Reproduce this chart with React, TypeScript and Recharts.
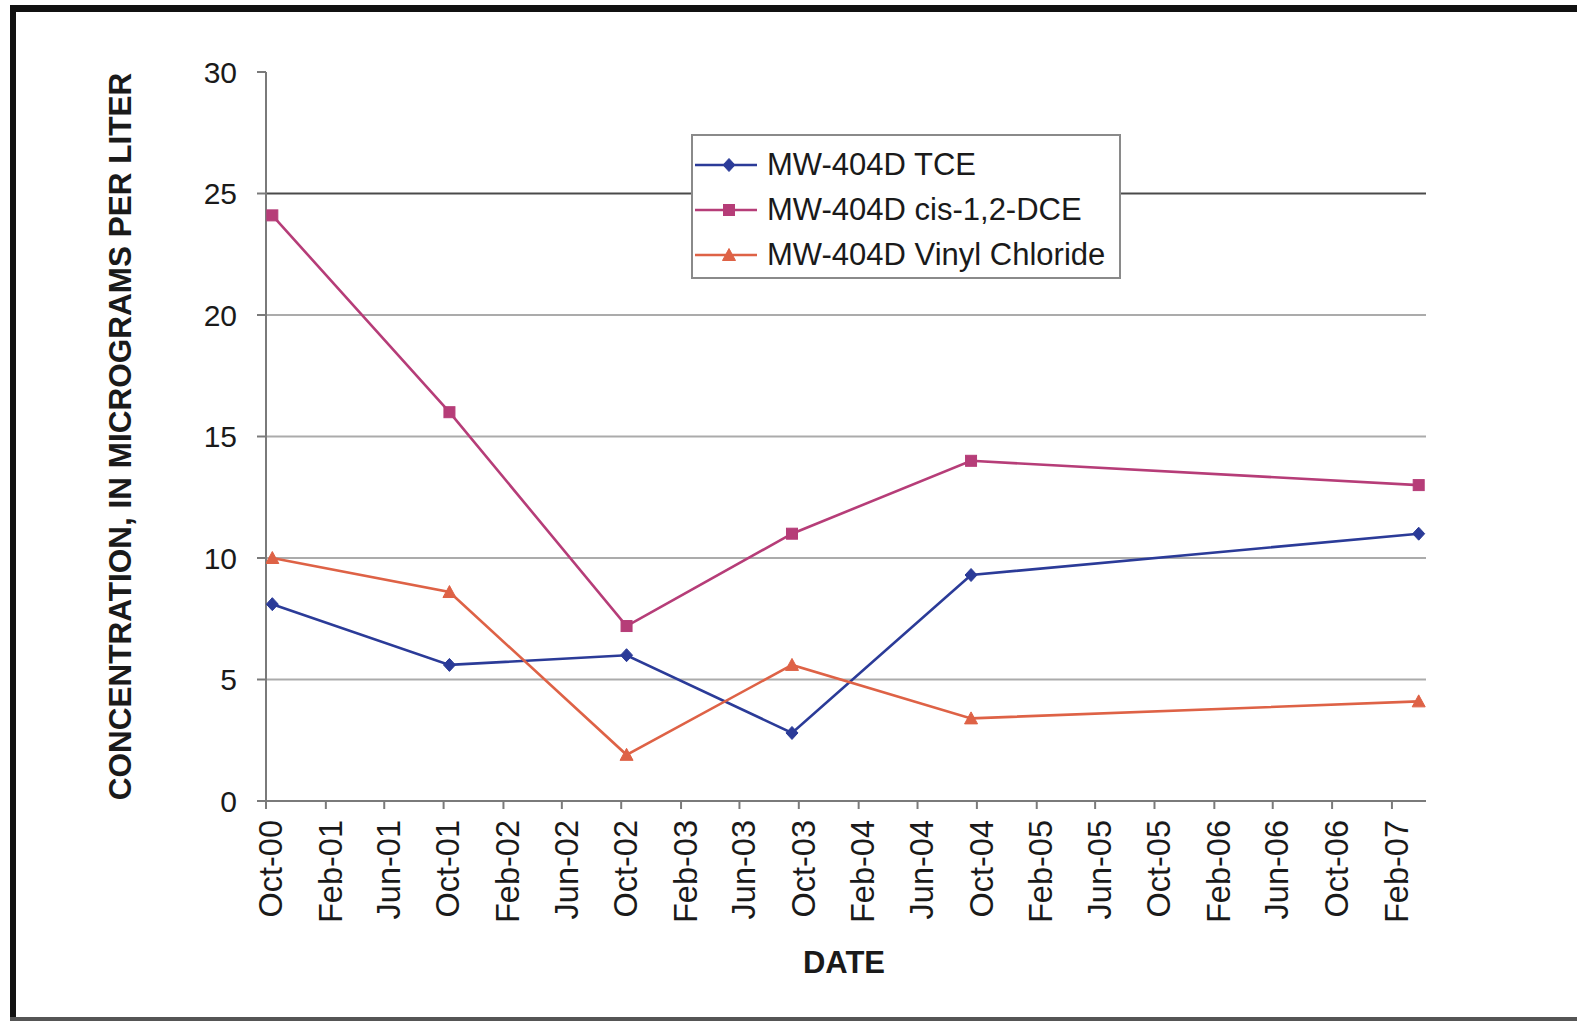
import React from 'react';
import { LineChart, Line, XAxis, YAxis, ReferenceLine } from 'recharts';

const sampleDates = ['2000-10-14', '2001-10-13', '2002-10-12', '2003-09-17', '2004-09-19', '2007-03-28'];
const tceValues = [8.1, 5.6, 6.0, 2.8, 9.3, 11.0];
const dceValues = [24.1, 16.0, 7.2, 11.0, 14.0, 13.0];
const vinylValues = [10.0, 8.6, 1.9, 5.6, 3.4, 4.1];
const seriesNames = ['MW-404D TCE', 'MW-404D cis-1,2-DCE', 'MW-404D Vinyl Chloride'];

const tickDates = [
  '2000-10-01', '2001-02-01', '2001-06-01', '2001-10-01', '2002-02-01', '2002-06-01', '2002-10-01',
  '2003-02-01', '2003-06-01', '2003-10-01', '2004-02-01', '2004-06-01', '2004-10-01', '2005-02-01',
  '2005-06-01', '2005-10-01', '2006-02-01', '2006-06-01', '2006-10-01', '2007-02-01',
];
const tickLabels = [
  'Oct-00', 'Feb-01', 'Jun-01', 'Oct-01', 'Feb-02', 'Jun-02', 'Oct-02', 'Feb-03', 'Jun-03', 'Oct-03',
  'Feb-04', 'Jun-04', 'Oct-04', 'Feb-05', 'Jun-05', 'Oct-05', 'Feb-06', 'Jun-06', 'Oct-06', 'Feb-07',
];
const xDomainDates = ['2000-10-01', '2007-04-12'];
const yTicks = [0, 5, 10, 15, 20, 25, 30];
const gridValues = [5, 10, 15, 20, 25];

const toTime = (s: string) => Date.parse(s + 'T00:00:00Z');

const data = sampleDates.map((d, i) => ({
  t: toTime(d),
  tce: tceValues[i],
  dce: dceValues[i],
  vc: vinylValues[i],
}));

const tickTimes = tickDates.map(toTime);
const labelByTime: Record<number, string> = {};
tickTimes.forEach((t, i) => { labelByTime[t] = tickLabels[i]; });

const FONT = 'Arial, "Liberation Sans", Helvetica, sans-serif';
const TEXT = '#1a1a1a';
const C_TCE = '#2b3b98';
const C_DCE = '#b63d78';
const C_VC = '#de6246';

const Diamond = ({ cx, cy, color }: any) => (
  <path d={`M${cx},${cy - 6.5} L${cx + 6},${cy} L${cx},${cy + 6.5} L${cx - 6},${cy} Z`} fill={color} stroke={color} strokeWidth={1} />
);
const Square = ({ cx, cy, color }: any) => (
  <rect x={cx - 5.5} y={cy - 5.5} width={11} height={11} fill={color} stroke={color} strokeWidth={1} />
);
const Triangle = ({ cx, cy, color }: any) => (
  <path d={`M${cx},${cy - 6.5} L${cx + 6.5},${cy + 5.5} L${cx - 6.5},${cy + 5.5} Z`} fill={color} stroke={color} strokeWidth={1} />
);

const XTick = (props: any) => {
  const { x, y, payload } = props;
  return (
    <g transform={`translate(${x + 4},${y})`}>
      <text transform="rotate(-90)" textAnchor="end" dy="0.36em" fontSize={32.5} fill={TEXT} fontFamily={FONT}>
        {labelByTime[payload.value] ?? ''}
      </text>
    </g>
  );
};

const YTitle = (props: any) => {
  const vb = props.viewBox || { x: 166, y: 72, width: 100, height: 729 };
  const cx = vb.x - 46;
  const cy = vb.y + vb.height / 2;
  return (
    <text x={cx} y={cy} transform={`rotate(-90, ${cx}, ${cy})`} textAnchor="middle" dominantBaseline="central"
      fontSize={31.5} fontWeight="bold" fill={TEXT} fontFamily={FONT}>
      CONCENTRATION, IN MICROGRAMS PER LITER
    </text>
  );
};

const XTitle = (props: any) => {
  const vb = props.viewBox || { x: 266, y: 801, width: 1160, height: 140 };
  return (
    <text x={vb.x + vb.width / 2 - 2} y={vb.y + 172} textAnchor="middle" fontSize={31} fontWeight="bold" fill={TEXT} fontFamily={FONT}>
      DATE
    </text>
  );
};

const legendItems = [
  { name: seriesNames[0], color: C_TCE, Shape: Diamond },
  { name: seriesNames[1], color: C_DCE, Shape: Square },
  { name: seriesNames[2], color: C_VC, Shape: Triangle },
];

export default function App() {
  return (
    <div style={{ position: 'absolute', left: 0, top: 0, width: 1577, height: 1023, background: '#fff', overflow: 'hidden' }}>
      <LineChart width={1577} height={1023} data={data} margin={{ top: 72, right: 151, bottom: 82, left: 166 }}>
        <XAxis
          dataKey="t"
          type="number"
          domain={[toTime(xDomainDates[0]), toTime(xDomainDates[1])]}
          ticks={tickTimes}
          interval={0}
          height={140}
          stroke="#7a7a7a"
          strokeWidth={2}
          tickSize={8}
          tickMargin={11}
          tick={<XTick />}
          allowDataOverflow
          label={<XTitle />}
        />
        <YAxis
          type="number"
          domain={[0, 30]}
          ticks={yTicks}
          interval={0}
          width={100}
          stroke="#7a7a7a"
          strokeWidth={2}
          tickSize={9}
          tickMargin={20}
          tick={{ fontSize: 30, fill: TEXT, fontFamily: FONT }}
          label={<YTitle />}
        />
        {gridValues.map((v) => (
          <ReferenceLine key={v} y={v} stroke={v === 25 ? '#4a4a4a' : '#ababab'} strokeWidth={2} />
        ))}
        <Line dataKey="tce" stroke={C_TCE} strokeWidth={2.6} isAnimationActive={false}
          dot={(p: any) => <Diamond key={`tce-${p.index}`} cx={p.cx} cy={p.cy} color={C_TCE} />} />
        <Line dataKey="dce" stroke={C_DCE} strokeWidth={2.6} isAnimationActive={false}
          dot={(p: any) => <Square key={`dce-${p.index}`} cx={p.cx} cy={p.cy} color={C_DCE} />} />
        <Line dataKey="vc" stroke={C_VC} strokeWidth={2.6} isAnimationActive={false}
          dot={(p: any) => <Triangle key={`vc-${p.index}`} cx={p.cx} cy={p.cy} color={C_VC} />} />
      </LineChart>

      <div style={{
        position: 'absolute', left: 691, top: 134, width: 426, height: 135,
        border: '2px solid #8a8a8a', background: '#fff', paddingTop: 6, boxSizing: 'content-box',
      }}>
        {legendItems.map((it) => (
          <div key={it.name} style={{ display: 'flex', alignItems: 'center', height: 45 }}>
            <svg width={70} height={20} style={{ flex: '0 0 auto' }}>
              <line x1={2} y1={10} x2={64} y2={10} stroke={it.color} strokeWidth={2.6} />
              <it.Shape cx={36} cy={10} color={it.color} />
            </svg>
            <span style={{ marginLeft: 4, fontSize: 31, fontFamily: FONT, color: TEXT, whiteSpace: 'nowrap', lineHeight: '45px' }}>
              {it.name}
            </span>
          </div>
        ))}
      </div>

      <div style={{ position: 'absolute', left: 10, top: 5, width: 1567, height: 7, background: '#111' }} />
      <div style={{ position: 'absolute', left: 10, top: 5, width: 6, height: 1016, background: '#111' }} />
      <div style={{ position: 'absolute', left: 10, top: 1017, width: 1567, height: 4, background: '#555' }} />
    </div>
  );
}
